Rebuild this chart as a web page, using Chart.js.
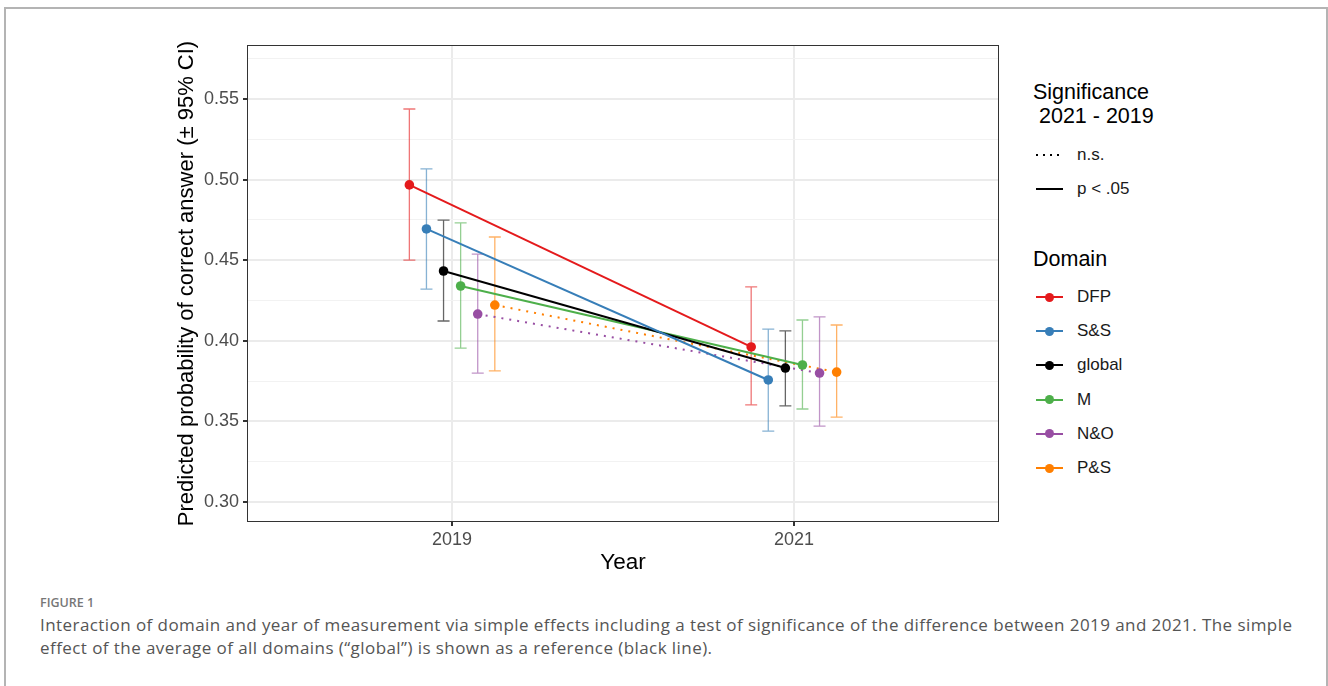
<!DOCTYPE html>
<html>
<head>
<meta charset="utf-8">
<script src="https://cdn.jsdelivr.net/npm/chart.js@4.4.0/dist/chart.umd.min.js"></script>
<style>
  body { margin: 0; width: 1328px; height: 686px; overflow: hidden; background: #fff; font-family: "Liberation Sans", Arial, sans-serif; }
  #frame { position: absolute; left: 4px; top: 7px; width: 1324px; height: 700px; border: 2px solid #b4b4b4; border-bottom: none; box-sizing: border-box; }
  #plot { position: absolute; left: 0; top: 0; width: 1010px; height: 590px; }
  .ltitle { position: absolute; left: 1033px; font-size: 21.5px; line-height: 24px; color: #000; white-space: pre; }
  .row { position: absolute; left: 1036px; height: 24px; display: flex; align-items: center; font-size: 17px; color: #1a1a1a; }
  .key { position: relative; width: 27px; height: 24px; margin-right: 14px; }
  .key .ln { position: absolute; left: 0; right: 0; top: 11px; height: 2px; }
  .key .dt { position: absolute; left: 9px; top: 7.5px; width: 9px; height: 9px; border-radius: 50%; }
  #figlabel { position: absolute; left: 40px; top: 594px; font-family: "Open Sans", sans-serif; font-size: 12.5px; font-weight: 600; color: #777; letter-spacing: 0px; }
  #caption { position: absolute; left: 40px; top: 613px; font-family: "Open Sans", sans-serif; font-size: 17px; line-height: 23px; color: #555; letter-spacing: 0.43px; white-space: nowrap; }
</style>
</head>
<body>
<div id="frame"></div>
<div id="plot"><canvas id="chart" width="1010" height="590"></canvas></div>

<div class="ltitle" style="top:80px">Significance</div>
<div class="ltitle" style="top:104px"> 2021 - 2019</div>
<div class="row" style="top:143px"><div class="key"><div class="ln" style="background:repeating-linear-gradient(to right,#000 0 2px,transparent 2px 7px)"></div></div>n.s.</div>
<div class="row" style="top:177px"><div class="key"><div class="ln" style="background:#000"></div></div>p &lt; .05</div>
<div class="ltitle" style="top:247px">Domain</div>
<div id="domainLegend"></div>

<div id="figlabel">FIGURE 1</div>
<div id="caption">Interaction of domain and year of measurement via simple effects including a test of significance of the difference between 2019 and 2021. The simple<br>effect of the average of all domains (“global”) is shown as a reference (black line).</div>

<script>
const years = [2019, 2021];
const domains = ['DFP', 'S&S', 'global', 'M', 'N&O', 'P&S'];
const colors = ['#E41A1C', '#377EB8', '#000000', '#4DAF4A', '#984EA3', '#FF7F00'];
const significance = ['p < .05', 'p < .05', 'p < .05', 'p < .05', 'n.s.', 'n.s.'];

const estimate2019 = [0.4967, 0.4694, 0.4433, 0.4340, 0.4166, 0.4222];
const lower2019    = [0.4501, 0.4321, 0.4123, 0.3955, 0.3800, 0.3813];
const upper2019    = [0.5438, 0.5066, 0.4749, 0.4731, 0.4538, 0.4644];

const estimate2021 = [0.3962, 0.3757, 0.3831, 0.3850, 0.3800, 0.3806];
const lower2021    = [0.3602, 0.3440, 0.3596, 0.3577, 0.3471, 0.3527];
const upper2021    = [0.4334, 0.4073, 0.4061, 0.4129, 0.4148, 0.4098];

const yTicks = [0.30, 0.35, 0.40, 0.45, 0.50, 0.55];

// dodge offsets (in years) so the domains sit side by side
const dodge = [-0.25, -0.15, -0.05, 0.05, 0.15, 0.25];

const estimates = [estimate2019, estimate2021];
const lowers = [lower2019, lower2021];
const uppers = [upper2019, upper2021];

const yGrid = yTicks.concat(yTicks.map(v => v + 0.025)).sort((a, b) => a - b);
const isMajor = v => yTicks.some(t => Math.abs(t - v) < 1e-6);

function fade(hex, a) {
    const n = parseInt(hex.slice(1), 16);
    return `rgba(${n >> 16}, ${(n >> 8) & 255}, ${n & 255}, ${a})`;
}

// legend for domains
const legendBox = document.getElementById('domainLegend');
domains.forEach((d, i) => {
    const row = document.createElement('div');
    row.className = 'row';
    row.style.top = (285 + i * 34.2) + 'px';
    row.innerHTML = `<div class="key"><div class="ln" style="background:${colors[i]}"></div><div class="dt" style="background:${colors[i]}"></div></div>`;
    row.appendChild(document.createTextNode(d));
    legendBox.appendChild(row);
});

const datasets = domains.map((d, i) => ({
    label: d,
    data: years.map((yr, j) => ({ x: yr + dodge[i], y: estimates[j][i] })),
    borderColor: colors[i],
    backgroundColor: colors[i],
    borderWidth: 2,
    borderDash: significance[i] === 'n.s.' ? [2, 6] : [],
    pointRadius: 4.8,
    pointBorderWidth: 0,
    pointHoverRadius: 4.8,
    tension: 0
}));

const errorBars = {
    id: 'errorBars',
    beforeDatasetsDraw(chart) {
        const { ctx, scales: { x, y } } = chart;
        ctx.save();
        ctx.lineWidth = 1.3;
        domains.forEach((d, i) => {
            years.forEach((yr, j) => {
                const px = x.getPixelForValue(yr + dodge[i]);
                const lo = y.getPixelForValue(lowers[j][i]);
                const hi = y.getPixelForValue(uppers[j][i]);
                ctx.strokeStyle = fade(colors[i], 0.6);
                ctx.beginPath();
                ctx.moveTo(px, lo); ctx.lineTo(px, hi);
                ctx.moveTo(px - 6, lo); ctx.lineTo(px + 6, lo);
                ctx.moveTo(px - 6, hi); ctx.lineTo(px + 6, hi);
                ctx.stroke();
            });
        });
        ctx.restore();
    },
    afterDraw(chart) {
        const { ctx, chartArea: a } = chart;
        ctx.save();
        ctx.strokeStyle = '#333333';
        ctx.lineWidth = 1;
        ctx.strokeRect(a.left + 0.5, a.top + 0.5, a.right - a.left - 1, a.bottom - a.top - 1);
        ctx.restore();
    }
};

new Chart(document.getElementById('chart'), {
    type: 'line',
    data: { datasets },
    plugins: [errorBars],
    options: {
        responsive: false,
        animation: false,
        layout: { padding: { left: 170, top: 45, right: 11, bottom: 10 } },
        plugins: { legend: { display: false }, tooltip: { enabled: false } },
        scales: {
            x: {
                type: 'linear',
                min: 2017.8,
                max: 2022.2,
                afterBuildTicks: s => { s.ticks = years.map(v => ({ value: v })); },
                afterFit: s => { s.height = 58; },
                ticks: {
                    callback: v => String(v),
                    color: '#4d4d4d',
                    font: { family: 'Liberation Sans', size: 18 },
                    padding: 3,
                    maxRotation: 0
                },
                grid: { color: '#ebebeb', lineWidth: 2, tickLength: 4, tickColor: '#333333' },
                border: { display: false },
                title: {
                    display: true, text: 'Year', color: '#000',
                    font: { family: 'Liberation Sans', size: 22.5 },
                    padding: { top: 0, bottom: 4 }
                }
            },
            y: {
                min: 0.2876,
                max: 0.5835,
                afterBuildTicks: s => { s.ticks = yGrid.map(v => ({ value: v })); },
                afterFit: s => { s.width = 77; },
                ticks: {
                    callback: v => isMajor(v) ? v.toFixed(2) : '',
                    color: '#4d4d4d',
                    font: { family: 'Liberation Sans', size: 18 },
                    padding: 4,
                    autoSkip: false
                },
                grid: {
                    color: c => isMajor(c.tick.value) ? '#ebebeb' : '#f2f2f2',
                    lineWidth: c => isMajor(c.tick.value) ? 2 : 1,
                    tickLength: 4,
                    tickColor: c => isMajor(c.tick.value) ? '#333333' : 'rgba(0,0,0,0)'
                },
                border: { display: false },
                title: {
                    display: true, text: 'Predicted probability of correct answer (± 95% CI)', color: '#000',
                    font: { family: 'Liberation Sans', size: 22 },
                    padding: { top: 4, bottom: 0 }
                }
            }
        }
    }
});
</script>
</body>
</html>
